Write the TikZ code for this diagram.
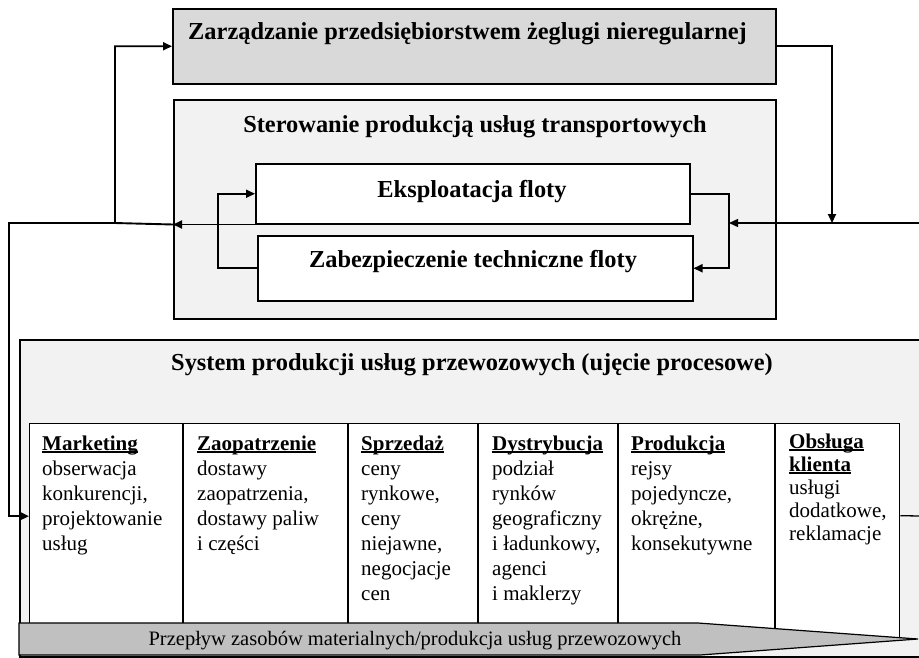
\documentclass[tikz,border=0pt]{standalone}
\usepackage{fontspec}
\setmainfont{Liberation Serif}
\usetikzlibrary{arrows.meta}

\definecolor{mgmtgray}{HTML}{D9D9D9}
\definecolor{panelgray}{HTML}{F2F2F2}
\definecolor{flowgray}{HTML}{C0C0C0}

% bold column heading with an underline just below the baseline
\newcommand\colhead[1]{\setbox0=\hbox{\bfseries #1}\rlap{\rule[-2.5pt]{\wd0}{1.3pt}}\box0}

\begin{document}
\begin{tikzpicture}[x=1pt,y=-1pt,
  box/.style={draw, line width=1.5pt, inner sep=0pt, anchor=north west},
  ttl/.style={font=\fontsize{24.4}{28}\selectfont\bfseries, inner sep=0pt, anchor=base},
  link/.style={line width=1.9pt},
  thinlink/.style={line width=1.3pt},
  arr/.style={-{Triangle[length=9pt,width=8pt]}},
  coltext/.style={anchor=base west, inner sep=0pt},
  sep/.style={line width=1.3pt}
]
\useasboundingbox (0,0) rectangle (919,657);

% --- management level ---
\node[box, fill=mgmtgray, minimum width=603pt, minimum height=75pt] (mgmt) at (172,8) {};
\node[ttl, anchor=base west] (mgmtT) at (188,39) {Zarządzanie przedsiębiorstwem żeglugi nieregularnej};

% --- production control ---
\node[box, fill=panelgray, minimum width=602pt, minimum height=219pt] (ctrl) at (173,99) {};
\node[ttl] (ctrlT) at (475,132) {Sterowanie produkcją usług transportowych};
\node[box, fill=white, minimum width=434pt, minimum height=60pt] (eksp) at (255,163) {};
\node[ttl] (ekspT) at (472,197) {Eksploatacja floty};
\node[box, fill=white, minimum width=435pt, minimum height=65pt] (zab) at (257,235) {};
\node[ttl] (zabT) at (473,267) {Zabezpieczenie techniczne floty};

% --- production system ---
\node[box, fill=panelgray, minimum width=920pt, minimum height=317pt] (sys) at (19,339) {};
\node[ttl] (sysT) at (472,370) {System produkcji usług przewozowych (ujęcie procesowe)};

\node[box, fill=white, line width=1.3pt, minimum width=870pt, minimum height=215pt] (cols) at (29,423) {};
\foreach \x in {183,348,478,618,775}
  \draw[sep] (\x,423) -- (\x,638);

\begin{scope}[every node/.style={coltext}]
\node (c1) at (42,450) {\fontsize{21}{25}\selectfont\begin{tabular}[t]{@{}l@{}}
  \colhead{Marketing}\\ obserwacja\\ konkurencji,\\ projektowanie\\ usług\end{tabular}};
\node (c2) at (197,450) {\fontsize{21}{25}\selectfont\begin{tabular}[t]{@{}l@{}}
  \colhead{Zaopatrzenie}\\ dostawy\\ zaopatrzenia,\\ dostawy paliw\\ i części\end{tabular}};
\node (c3) at (361,450) {\fontsize{21}{25}\selectfont\begin{tabular}[t]{@{}l@{}}
  \colhead{Sprzedaż}\\ ceny\\ rynkowe,\\ ceny\\ niejawne,\\ negocjacje\\ cen\end{tabular}};
\node (c4) at (492,450) {\fontsize{21}{25}\selectfont\begin{tabular}[t]{@{}l@{}}
  \colhead{Dystrybucja}\\ podział\\ rynków\\ geograficzny\\ i ładunkowy,\\ agenci\\ i maklerzy\end{tabular}};
\node (c5) at (631,450) {\fontsize{21}{25}\selectfont\begin{tabular}[t]{@{}l@{}}
  \colhead{Produkcja}\\ rejsy\\ pojedyncze,\\ okrężne,\\ konsekutywne\end{tabular}};
\node (c6) at (789,448) {\fontsize{21}{23.2}\selectfont\begin{tabular}[t]{@{}l@{}}
  \colhead{Obsługa}\\ \colhead{klienta}\\ usługi\\ dodatkowe,\\ reklamacje\end{tabular}};
\end{scope}

% --- material flow banner ---
\draw[line width=1.2pt, fill=flowgray] (19,623) -- (698,623) -- (918,639) -- (700,655) -- (19,655) -- cycle;
\node[font=\fontsize{20.5}{24}\selectfont, inner sep=0pt, anchor=base] (flowT) at (415,645)
  {Przepływ zasobów materialnych/produkcja usług przewozowych};

% --- connectors ---
\coordinate (rin) at (919,223);
\coordinate (jr) at (832,223);
\coordinate (rloop) at (729,223);
\coordinate (lloop) at (218,230);
\coordinate (lj) at (115,223);
\coordinate (lfar) at (9,223);
\coordinate (rout) at (919,516);

\draw[link, arr] (mgmt.east) -| (jr);
\draw[thinlink, arr] (rin) -- (rloop);
\draw[link, arr] (eksp.east) -| (rloop) |- (zab.east);
\draw[link, arr] (zab.west) -| (lloop) |- (eksp.west);
\draw[link, arr] (eksp.south west) -- (ctrl.west |- eksp.south west);
\draw[link, arr] (ctrl.west |- eksp.south west) -- (lj) |- (mgmt.west);
\draw[link, arr] (lj) -- (lfar) |- ([yshift=15pt]cols.west);
\draw[thinlink] ([yshift=15.5pt]cols.east) -- (rout);
\end{tikzpicture}
\end{document}
